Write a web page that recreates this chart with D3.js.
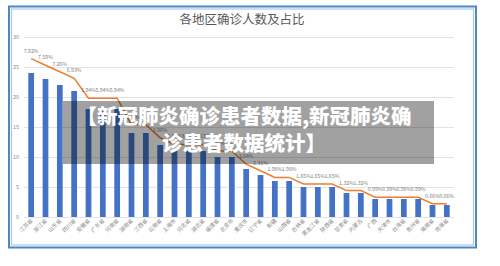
<!DOCTYPE html>
<html>
<head>
<meta charset="utf-8">
<script src="https://cdn.jsdelivr.net/npm/d3@7"></script>
<style>
  html, body { margin: 0; padding: 0; background: #fff; }
  svg { display: block; font-family: "Noto Sans CJK SC", "Noto Sans", sans-serif; }
</style>
</head>
<body>
<svg id="chart" width="500" height="266"></svg>
<script>
const provinces = ["江苏省", "浙江省", "山东省", "四川省", "安徽省", "广东省", "河南省", "湖南省", "江西省", "云南省",
  "上海市", "河北省", "湖北省", "福建省", "北京市", "重庆市", "辽宁省", "新疆", "山西省", "吉林省",
  "黑龙江省", "陕西省", "甘肃省", "内蒙古", "广西", "天津市", "台湾省", "贵州省", "海南省", "青海省"];
const cases = [24, 23, 22, 21, 18, 18, 18, 14, 14, 12, 11, 11, 11, 10, 10, 8, 7, 6, 6, 5, 5, 5, 4, 4, 3, 3, 3, 3, 2, 2];
const shares = [7.92, 7.59, 7.26, 6.93, 5.94, 5.94, 5.94, 4.62, 4.62, 3.96, 3.63, 3.63, 3.63, 3.30, 3.30,
  2.64, 2.31, 1.98, 1.98, 1.65, 1.65, 1.65, 1.32, 1.32, 0.99, 0.99, 0.99, 0.99, 0.66, 0.66];
const yTicks = [0, 5, 10, 15, 20, 25, 30];
const title = "各地区确诊人数及占比";
const overlayLines = ["【新冠肺炎确诊患者数据,新冠肺炎确", "诊患者数据统计】"];

const svg = d3.select("#chart");

// frame (double blue border)
svg.append("rect").attr("x", 9).attr("y", 6.5).attr("width", 467).attr("height", 241)
  .attr("fill", "#fff").attr("stroke", "#4f86c6").attr("stroke-width", 2);
svg.append("rect").attr("x", 11.5).attr("y", 9).attr("width", 462).attr("height", 236)
  .attr("fill", "none").attr("stroke", "#a9c8ea").attr("stroke-width", 1.2);

const plotLeft = 24, plotRight = 454, plotTop = 37, plotBottom = 217;

const x = d3.scaleBand().domain(provinces).range([plotLeft, plotRight]).paddingInner(0.6).paddingOuter(0.3);
const y = d3.scaleLinear().domain([0, 30]).range([plotBottom, plotTop]);
const y2 = d3.scaleLinear().domain([0, 9]).range([plotBottom, plotTop]);

svg.append("text")
  .attr("x", 242).attr("y", 24)
  .attr("text-anchor", "middle")
  .attr("fill", "#595959")
  .style("font-size", "12.5px")
  .text(title);

// grid
svg.append("g")
  .selectAll("line")
  .data(yTicks)
  .join("line")
  .attr("x1", plotLeft).attr("x2", plotRight)
  .attr("y1", d => y(d) + 0.5).attr("y2", d => y(d) + 0.5)
  .attr("stroke", "#e3e3e3").attr("stroke-width", 1);

svg.append("g")
  .selectAll("text")
  .data(yTicks)
  .join("text")
  .attr("x", 19).attr("y", d => y(d) + 2)
  .attr("text-anchor", "end")
  .attr("fill", "#8c8c8c")
  .style("font-size", "5.5px")
  .text(d => d);

// bars
svg.append("g")
  .selectAll("rect")
  .data(cases)
  .join("rect")
  .attr("x", (d, i) => x(provinces[i]))
  .attr("y", d => y(d))
  .attr("width", x.bandwidth())
  .attr("height", d => y(0) - y(d))
  .attr("fill", "#4472c4");

// share line
const cx = i => x(provinces[i]) + x.bandwidth() / 2;
svg.append("path")
  .datum(shares)
  .attr("d", d3.line().x((d, i) => cx(i)).y(d => y2(d)))
  .attr("fill", "none")
  .attr("stroke", "#ed7d31")
  .attr("stroke-width", 1.5);

svg.append("g")
  .selectAll("text")
  .data(shares)
  .join("text")
  .attr("x", (d, i) => cx(i))
  .attr("y", d => y2(d) - 6)
  .attr("text-anchor", "middle")
  .attr("fill", "#7f7f7f")
  .style("font-size", "5.2px")
  .text(d => d.toFixed(2) + "%");

// x labels
svg.append("g")
  .selectAll("text")
  .data(provinces)
  .join("text")
  .attr("transform", d => `translate(${x(d) + x.bandwidth() / 2 + 2},${plotBottom + 4}) rotate(-45)`)
  .attr("text-anchor", "end")
  .attr("fill", "#8c8c8c")
  .style("font-size", "5.5px")
  .text(d => d);

// watermark overlay
svg.append("rect").attr("x", 63).attr("y", 101).attr("width", 371).attr("height", 63)
  .attr("fill", "#000").attr("fill-opacity", 0.37);
svg.append("g")
  .selectAll("text")
  .data(overlayLines)
  .join("text")
  .attr("x", 244)
  .attr("y", (d, i) => 124 + i * 27)
  .attr("text-anchor", "middle")
  .attr("fill", "#fff")
  .style("font-size", "20.5px")
  .style("font-weight", "900")
  .text(d => d);
</script>
</body>
</html>
